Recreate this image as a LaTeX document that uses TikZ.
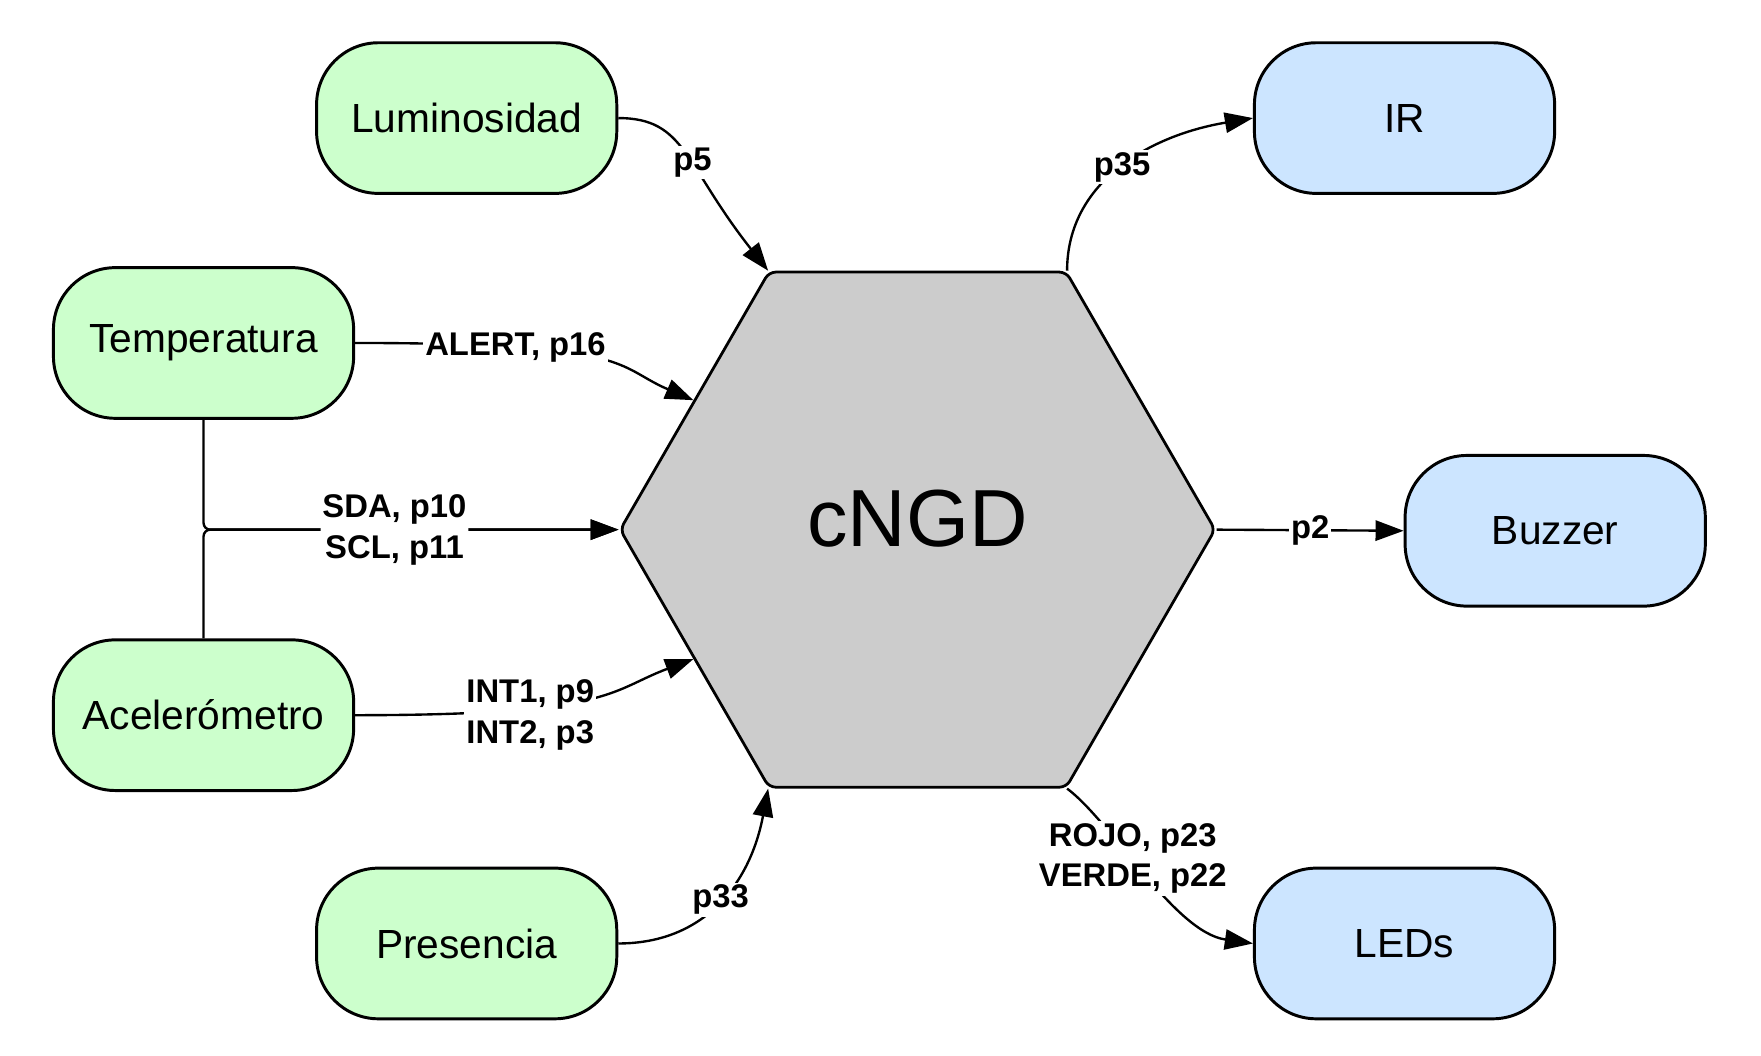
\documentclass[tikz,border=0pt]{standalone}
\usepackage{fontspec}
\setmainfont{Liberation Sans}
\usetikzlibrary{shapes.geometric, arrows.meta, positioning}

\definecolor{sensorgreen}{HTML}{CCFFCC}
\definecolor{actorblue}{HTML}{CCE5FF}
\definecolor{coregray}{HTML}{CCCCCC}

\tikzset{
    block/.style={draw, line width=1.5pt, rounded corners=1.1cm, minimum width=5.34cm, minimum height=2.68cm, inner sep=0pt, font=\fontsize{20.6}{24}\selectfont},
    sensor/.style={block, fill=sensorgreen},
    actor/.style={block, fill=actorblue},
    wire/.style={line width=1.2pt, -{Triangle[length=0.5cm, width=0.36cm]}},
    pin/.style={fill=white, inner sep=1pt, align=center, font=\bfseries\fontsize{16.6}{20.7}\selectfont},
}

\begin{document}
\begin{tikzpicture}[x=0.02cm, y=-0.02cm]
    \useasboundingbox (0,0) rectangle (1566,939);

    % Core
    \node[regular polygon, regular polygon sides=6, minimum size=10.58cm, inner sep=0pt, text depth=0.4cm, draw, line width=1.4pt, fill=coregray, rounded corners=0.12cm, font=\fontsize{41}{48}\selectfont] (hex) at (816,471) {cNGD};

    % Sensors
    \node[sensor] (lum) at (415,105) {Luminosidad};
    \node[sensor] (temp) at (181,305) {Temperatura};
    \node[sensor] (acc) at (181,636) {Acelerómetro};
    \node[sensor] (pres) at (415,839) {Presencia};

    % Actuators
    \node[actor] (ir) at (1249,105) {IR};
    \node[actor] (buzz) at (1383,472) {Buzzer};
    \node[actor] (leds) at (1249,839) {LEDs};

    % Inputs
    \draw[wire] (lum.east) .. controls +(60,0) and +(-75,-95) .. (hex.120) node[pin, pos=0.55] (lp5) {p5};
    \draw[wire] (temp.east) .. controls +(250,0) and +(-70,-30) .. (hex.150) node[pin, pos=0.25] (lalert) {ALERT, p16};
    \draw[wire, rounded corners=0.12cm] (acc.north) |- (hex.west);
    \draw[wire, rounded corners=0.12cm] (temp.south) |- (hex.west) node[pin, pos=0.73] (lbus) {SDA, p10\\SCL, p11};
    \draw[wire] (acc.east) .. controls +(230,0) and +(-75,28) .. (hex.210) node[pin, pos=0.31, yshift=-0.12cm] (lint) {INT1, p9\\INT2, p3};
    \draw[wire] (pres.east) .. controls +(80,0) and +(-15,80) .. (hex.240) node[pin, pos=0.5] (lp33) {p33};

    % Outputs
    \draw[wire] (hex.60) .. controls +(0,-80) and +(-90,15) .. (ir.west) node[pin, pos=0.5] (lp35) {p35};
    \draw[wire] (hex.east) -- (buzz.west) node[pin, midway] (lp2) {p2};
    \draw[wire] (hex.300) .. controls +(40,30) and +(-70,-10) .. (leds.west) node[pin, pos=0.42] (lled) {ROJO, p23\\VERDE, p22};

\end{tikzpicture}
\end{document}
